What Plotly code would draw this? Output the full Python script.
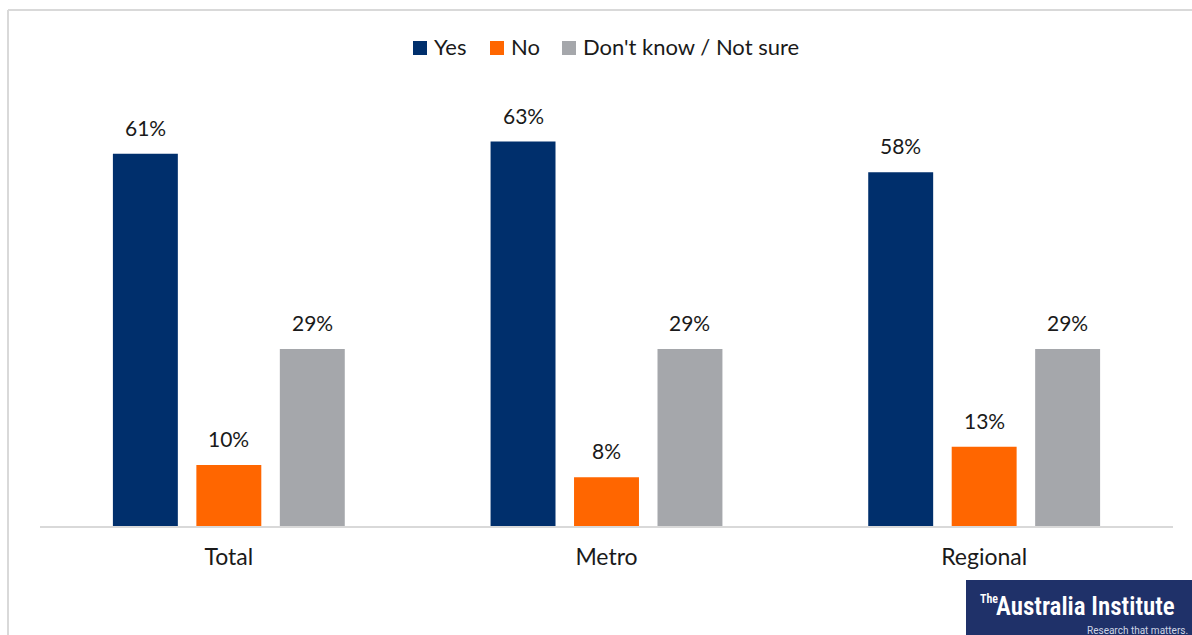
import plotly.graph_objects as go

# Survey results by region
categories = ["Total", "Metro", "Regional"]
yes_values = [61, 63, 58]
no_values = [10, 8, 13]
unsure_values = [29, 29, 29]

series = [
    ("Yes", yes_values, "#002F6C"),
    ("No", no_values, "#FF6600"),
    ("Don't know / Not sure", unsure_values, "#A5A7AB"),
]

FONT = "Lato, Carlito, Calibri, sans-serif"
TEXT_COLOR = "#1a1a1a"

# Plot area geometry (pixels)
W, H = 1192, 635
ML, MR, MT, MB = 40, 19, 80, 109
PW, PH = W - ML - MR, H - MT - MB


def px_x(p):
    return (p - ML) / PW


def px_y(p):
    return (H - MB - p) / PH


BARGAP = 0.337
GROUPGAP = 0.222
slot_px = PW / len(categories) * (1 - BARGAP) / len(series)

fig = go.Figure()
annotations = []
shapes = []
for i, (name, vals, color) in enumerate(series):
    fig.add_trace(go.Bar(
        name=name,
        x=categories,
        y=vals,
        marker=dict(color=color, line=dict(width=0)),
        hoverinfo="skip",
        showlegend=False,
    ))
    shift = (i - (len(series) - 1) / 2) * slot_px
    for cat, v in zip(categories, vals):
        annotations.append(dict(
            x=cat, y=v, xref="x", yref="y",
            text=f"{v}%", showarrow=False,
            xshift=shift, yshift=12, yanchor="bottom",
            font=dict(family=FONT, size=21, color=TEXT_COLOR),
        ))

# Legend row: colour swatch followed by its label
legend_swatch_x = [413, 490, 562]
for (name, _, color), sx in zip(series, legend_swatch_x):
    shapes.append(dict(
        type="rect", xref="paper", yref="paper",
        x0=px_x(sx), x1=px_x(sx + 14), y0=px_y(41), y1=px_y(55),
        fillcolor=color, line=dict(width=0),
    ))
    annotations.append(dict(
        x=px_x(sx + 19), y=px_y(47), xref="paper", yref="paper",
        xanchor="left", yanchor="middle", showarrow=False,
        text=name,
        font=dict(family=FONT, size=22, color=TEXT_COLOR),
    ))

# Logo block in the bottom-right corner
LOGO_FONT = "Roboto Condensed, Roboto, sans-serif"
annotations.append(dict(
    x=px_x(978), y=px_y(599), xref="paper", yref="paper",
    xanchor="left", yanchor="middle", showarrow=False,
    text="The",
    font=dict(family=LOGO_FONT, size=12, color="white", weight=600),
))
annotations.append(dict(
    x=px_x(1177), y=px_y(606), xref="paper", yref="paper",
    xanchor="right", yanchor="middle", showarrow=False,
    text="Australia Institute",
    font=dict(family=LOGO_FONT, size=25, color="white", weight=600),
))
annotations.append(dict(
    x=px_x(1190), y=px_y(630), xref="paper", yref="paper",
    xanchor="right", yanchor="middle", showarrow=False,
    text="Research that matters.",
    font=dict(family="Roboto, sans-serif", size=10, color="#d0d6e6"),
))

shapes += [
    # frame lines on the left and top
    dict(type="line", xref="paper", yref="paper",
         x0=px_x(8), x1=px_x(8), y0=px_y(10), y1=px_y(H),
         line=dict(color="#d9d9d9", width=2)),
    dict(type="line", xref="paper", yref="paper",
         x0=px_x(8), x1=px_x(W), y0=px_y(10), y1=px_y(10),
         line=dict(color="#d9d9d9", width=2)),
    # logo background
    dict(type="rect", xref="paper", yref="paper",
         x0=px_x(966), x1=px_x(W), y0=px_y(580), y1=px_y(H),
         fillcolor="#1F3169", line=dict(width=0), layer="below"),
]

fig.update_layout(
    width=W, height=H,
    margin=dict(l=ML, r=MR, t=MT, b=MB),
    paper_bgcolor="white", plot_bgcolor="white",
    barmode="group", bargap=BARGAP, bargroupgap=GROUPGAP,
    font=dict(family=FONT, size=19, color=TEXT_COLOR),
    showlegend=False,
    xaxis=dict(
        showline=True, linecolor="#d9d9d9", linewidth=2,
        ticks="", showgrid=False, zeroline=False,
        ticklabelstandoff=9,
        tickfont=dict(family=FONT, size=23, color=TEXT_COLOR),
    ),
    yaxis=dict(
        range=[0, 73.1], visible=False, showgrid=False, zeroline=False,
    ),
    annotations=annotations,
    shapes=shapes,
)

fig.write_html("out.html")
